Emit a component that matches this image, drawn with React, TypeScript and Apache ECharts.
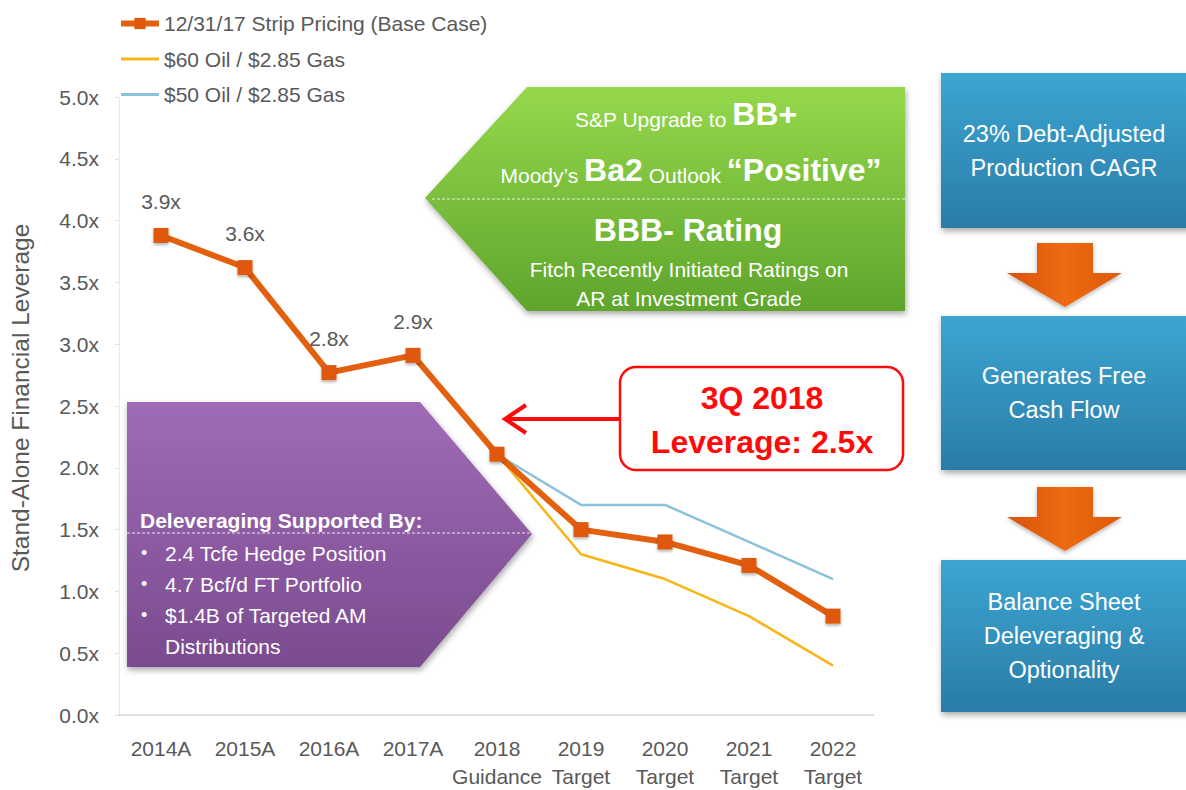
import React, { useEffect, useRef } from 'react';
import * as echarts from 'echarts';

const categories = ['2014A', '2015A', '2016A', '2017A', '2018\nGuidance', '2019\nTarget', '2020\nTarget', '2021\nTarget', '2022\nTarget'];
const seriesNames = ['12/31/17 Strip Pricing (Base Case)', '$60 Oil / $2.85 Gas', '$50 Oil / $2.85 Gas'];
const baseCase = [3.88, 3.62, 2.77, 2.91, 2.11, 1.5, 1.4, 1.21, 0.8];
const baseLabels = ['3.9x', '3.6x', '2.8x', '2.9x', '', '', '', '', ''];
const oil60 = [null, null, null, null, 2.11, 1.3, 1.1, 0.8, 0.4];
const oil50 = [null, null, null, null, 2.11, 1.7, 1.7, 1.4, 1.1];
const yAxisName = 'Stand-Alone Financial Leverage';

const greenLines = [
  '{s|S&P Upgrade to }{b|BB+}',
  '{s|Moody\u2019s }{b|Ba2}{s| Outlook }{b|\u201cPositive\u201d}',
];
const greenTitle = 'BBB- Rating';
const greenSub = ['Fitch Recently Initiated Ratings on', 'AR at Investment Grade'];
const purpleTitle = 'Deleveraging Supported By:';
const purpleBullets = ['2.4 Tcfe Hedge Position', '4.7 Bcf/d FT Portfolio', '$1.4B of Targeted AM', 'Distributions'];
const calloutLines = ['3Q 2018', 'Leverage: 2.5x'];
const blueBoxes = [
  ['23% Debt-Adjusted', 'Production CAGR'],
  ['Generates Free', 'Cash Flow'],
  ['Balance Sheet', 'Deleveraging &', 'Optionality'],
];

const FONT = '"Liberation Sans", Arial, sans-serif';
const ORANGE = '#E2600E';
const YELLOW = '#F9B515';
const BLUE = '#8CC2DC';
const GRAY = '#595959';
const THIN_LINE_ICON = 'path://M0,0 L40,0 L40,3 L0,3 Z';

export default function App() {
  const ref = useRef<HTMLDivElement>(null);
  useEffect(() => {
    if (!ref.current) return;
    const chart = echarts.init(ref.current, null, { renderer: 'svg' });

    const shadow = { shadowBlur: 6, shadowColor: 'rgba(0,0,0,0.35)', shadowOffsetX: 1, shadowOffsetY: 3 };
    const graphics: any[] = [];

    // Green pentagon
    graphics.push({
      type: 'polygon', z: 100,
      shape: { points: [[425, 198], [527, 87], [905, 87], [905, 311], [527, 311]] },
      style: {
        fill: new echarts.graphic.LinearGradient(0, 0, 0, 1, [
          { offset: 0, color: '#95D84C' }, { offset: 1, color: '#5EA52C' },
        ]), ...shadow,
      },
    });
    graphics.push({ type: 'line', z: 101, shape: { x1: 432, y1: 199, x2: 905, y2: 199 }, style: { stroke: 'rgba(255,255,255,0.85)', lineWidth: 1, lineDash: [3, 2] } });
    const richG = {
      s: { fontSize: 21, fill: '#fff', fontFamily: FONT, verticalAlign: 'bottom' },
      b: { fontSize: 32, fontWeight: 'bold', fill: '#fff', fontFamily: FONT, verticalAlign: 'bottom' },
    };
    [[686, 114], [691, 170]].forEach(([x, y], i) => {
      graphics.push({ type: 'text', z: 102, x, y, style: { text: greenLines[i], rich: richG, align: 'center', verticalAlign: 'middle', fill: '#fff' } });
    });
    graphics.push({ type: 'text', z: 102, x: 688, y: 230, style: { text: greenTitle, fill: '#fff', fontSize: 32, fontWeight: 'bold', fontFamily: FONT, align: 'center', verticalAlign: 'middle' } });
    greenSub.forEach((t, i) => {
      graphics.push({ type: 'text', z: 102, x: 689, y: 269 + i * 29, style: { text: t, fill: '#fff', fontSize: 21, fontFamily: FONT, align: 'center', verticalAlign: 'middle' } });
    });

    // Purple pentagon
    graphics.push({
      type: 'polygon', z: 100,
      shape: { points: [[127, 402], [420, 402], [532, 534], [420, 667], [127, 667]] },
      style: {
        fill: new echarts.graphic.LinearGradient(0, 0, 0, 1, [
          { offset: 0, color: '#A06BB6' }, { offset: 1, color: '#7A4B8F' },
        ]), ...shadow,
      },
    });
    graphics.push({ type: 'line', z: 101, shape: { x1: 127, y1: 533, x2: 530, y2: 533 }, style: { stroke: 'rgba(255,255,255,0.85)', lineWidth: 1, lineDash: [3, 2] } });
    graphics.push({ type: 'text', z: 102, x: 140, y: 520, style: { text: purpleTitle, fill: '#fff', fontSize: 21, fontWeight: 'bold', fontFamily: FONT, align: 'left', verticalAlign: 'middle' } });
    purpleBullets.forEach((t, i) => {
      const y = 553 + i * 31;
      if (i < 3) graphics.push({ type: 'text', z: 102, x: 141, y, style: { text: '\u2022', fill: '#fff', fontSize: 18, fontFamily: FONT, align: 'left', verticalAlign: 'middle' } });
      graphics.push({ type: 'text', z: 102, x: 165, y, style: { text: t, fill: '#fff', fontSize: 21, fontFamily: FONT, align: 'left', verticalAlign: 'middle' } });
    });

    // Red callout
    graphics.push({ type: 'rect', z: 100, shape: { x: 620, y: 367, width: 283, height: 103, r: 16 }, style: { fill: '#fff', stroke: '#FF0A0A', lineWidth: 2.5 } });
    calloutLines.forEach((t, i) => {
      graphics.push({ type: 'text', z: 102, x: 762, y: 398 + i * 44, style: { text: t, fill: '#FF0A0A', fontSize: 32, fontWeight: 'bold', fontFamily: FONT, align: 'center', verticalAlign: 'middle' } });
    });
    graphics.push({ type: 'line', z: 101, shape: { x1: 619, y1: 419, x2: 507, y2: 419 }, style: { stroke: '#FF0A0A', lineWidth: 4 } });
    graphics.push({ type: 'polyline', z: 101, shape: { points: [[526, 405], [505, 419], [526, 433]] }, style: { stroke: '#FF0A0A', lineWidth: 4, fill: 'none', lineJoin: 'miter' } });

    // Blue boxes
    const boxes = [[73, 155], [316, 154], [560, 152]];
    boxes.forEach(([y, h], bi) => {
      graphics.push({
        type: 'rect', z: 100, shape: { x: 941, y, width: 260, height: h },
        style: {
          fill: new echarts.graphic.LinearGradient(0, 0, 0, 1, [
            { offset: 0, color: '#3CA5D2' }, { offset: 1, color: '#2A7CA7' },
          ]), ...shadow,
        },
      });
      const lines = blueBoxes[bi];
      const cy = y + h / 2;
      lines.forEach((t, li) => {
        graphics.push({ type: 'text', z: 102, x: 1064, y: cy + (li - (lines.length - 1) / 2) * 34, style: { text: t, fill: '#fff', fontSize: 23.5, fontFamily: FONT, align: 'center', verticalAlign: 'middle' } });
      });
    });
    // Orange down arrows
    [243, 487].forEach((top) => {
      graphics.push({
        type: 'polygon', z: 100,
        shape: { points: [[1037, top], [1093, top], [1093, top + 30], [1122, top + 30], [1065, top + 64], [1007, top + 30], [1037, top + 30]] },
        style: {
          fill: new echarts.graphic.LinearGradient(0, 0, 1, 0, [
            { offset: 0, color: '#D85210' }, { offset: 0.5, color: '#EE6A12' }, { offset: 1, color: '#DC5A0E' },
          ]), shadowBlur: 4, shadowColor: 'rgba(0,0,0,0.3)', shadowOffsetY: 2,
        },
      });
    });

    chart.setOption({
      animation: false,
      textStyle: { fontFamily: FONT },
      legend: {
        orient: 'vertical', left: 113, top: 8, itemWidth: 38, itemHeight: 14, itemGap: 14.5,
        data: [
          { name: seriesNames[0], lineStyle: { width: 6 } },
          { name: seriesNames[1], icon: THIN_LINE_ICON },
          { name: seriesNames[2], icon: THIN_LINE_ICON },
        ],
        textStyle: { fontSize: 21, color: GRAY, fontFamily: FONT },
      },
      grid: { left: 118, right: 311, top: 97, bottom: 75, containLabel: false },
      xAxis: {
        type: 'category', data: categories, boundaryGap: true,
        axisLine: { lineStyle: { color: '#D0D0D0', type: 'dotted', width: 1.5 } },
        axisTick: { show: false },
        axisLabel: { fontSize: 21, color: GRAY, margin: 19, lineHeight: 28, interval: 0 },
      },
      yAxis: {
        type: 'value', min: 0, max: 5, interval: 0.5,
        name: yAxisName, nameLocation: 'middle', nameGap: 86, nameRotate: 90,
        nameTextStyle: { fontSize: 24.5, color: GRAY, fontFamily: FONT, padding: [0, 0, 0, 16] },
        axisLine: { show: true, lineStyle: { color: '#E6E6E6', type: 'dotted' } },
        axisTick: { show: true, length: 4, lineStyle: { color: '#E0E0E0' } },
        splitLine: { show: false },
        axisLabel: { fontSize: 21, color: GRAY, margin: 20, formatter: (v: number) => v.toFixed(1) + 'x' },
      },
      series: [
        {
          name: seriesNames[0], type: 'line', z: 5, data: baseCase,
          symbol: 'rect', symbolSize: 15,
          lineStyle: { color: ORANGE, width: 6 },
          itemStyle: { color: '#E0580A', shadowBlur: 3, shadowColor: 'rgba(0,0,0,0.3)', shadowOffsetY: 2 },
          label: {
            show: true, position: 'top', distance: 16, fontSize: 21, color: GRAY,
            formatter: (p: any) => baseLabels[p.dataIndex],
          },
        },
        {
          name: seriesNames[1], type: 'line', z: 3, data: oil60, symbol: 'none',
          lineStyle: { color: YELLOW, width: 2.5 }, itemStyle: { color: YELLOW },
        },
        {
          name: seriesNames[2], type: 'line', z: 3, data: oil50, symbol: 'none',
          lineStyle: { color: BLUE, width: 2.5 }, itemStyle: { color: BLUE },
        },
      ],
      graphic: graphics,
    });
    return () => chart.dispose();
  }, []);
  return <div ref={ref} style={{ position: 'absolute', left: 0, top: 0, width: 1186, height: 790, background: '#fff' }} />;
}
